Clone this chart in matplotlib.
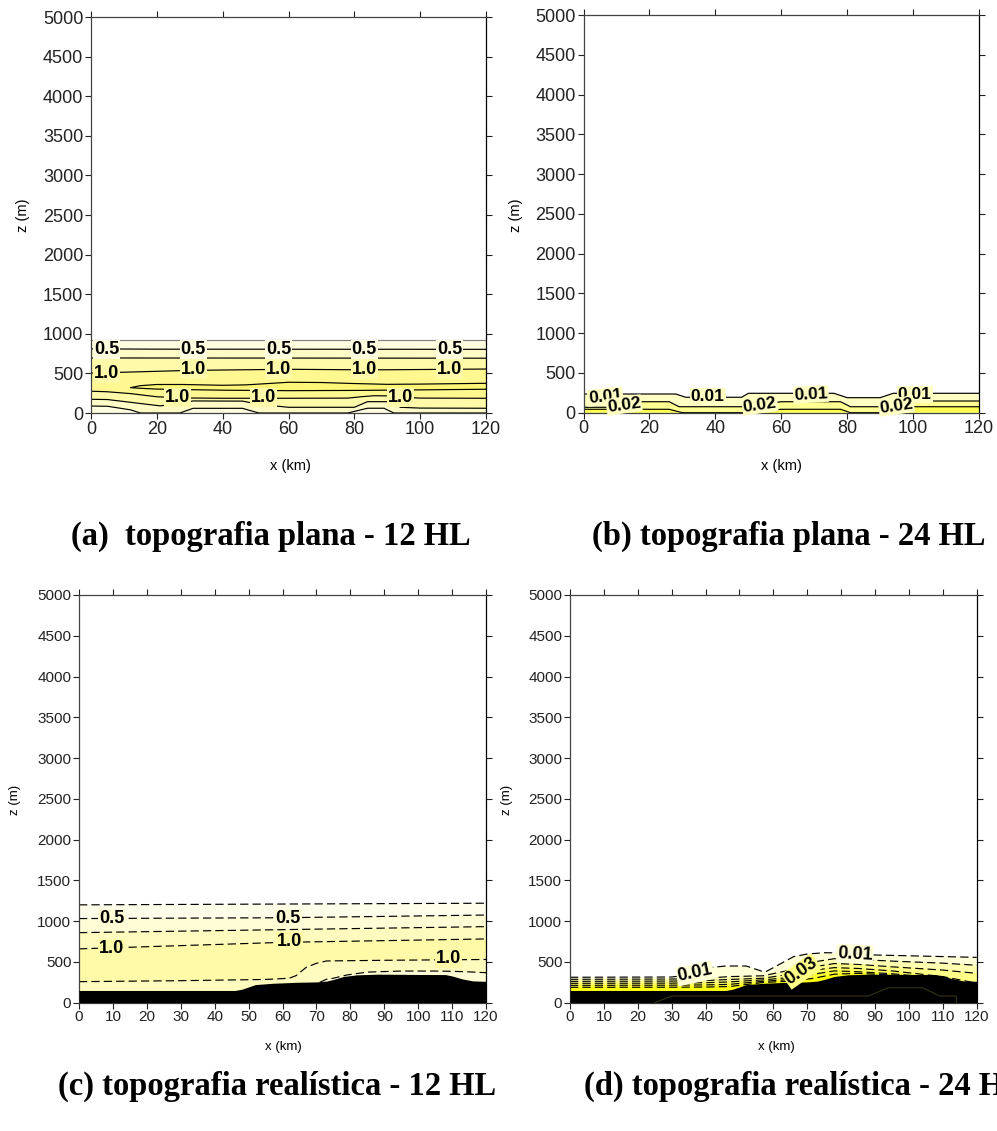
import numpy as np
import matplotlib.pyplot as plt

plt.rcParams['font.family'] = ['Liberation Sans', 'DejaVu Sans']

W, H = 997, 1131

# ---- (a) flat terrain, 12 HL : contour heights z (m) along x (km)
a_edge_x, a_edge_z = [0, 120], [920, 920]
a_05_x, a_05_z = [0, 20, 120], [810, 806, 804]
a_075_x, a_075_z = [0, 120], [695, 692]
a_10u_x = [0, 10, 30, 60, 80, 90, 120]
a_10u_z = [505, 515, 538, 552, 546, 546, 555]
a_lens_hi_x = [12, 15, 20, 28, 40, 47, 53, 60, 70, 80, 90, 100, 120]
a_lens_hi_z = [320, 345, 360, 360, 350, 355, 370, 388, 385, 372, 362, 365, 375]
a_lens_lo_x = [12, 15, 20, 28, 40, 60, 80, 100, 120]
a_lens_lo_z = [320, 312, 302, 296, 288, 282, 285, 292, 300]
a_10l_x = [0, 5, 12, 20, 28, 40, 60, 78, 82, 86, 92, 96, 100, 120]
a_10l_z = [275, 268, 245, 205, 190, 186, 186, 188, 205, 218, 215, 195, 188, 186]
a_075l_x = [0, 5, 12, 21, 26, 31, 46, 51, 60, 80, 84, 91, 94, 100, 120]
a_075l_z = [173, 170, 135, 90, 115, 152, 150, 110, 72, 72, 143, 143, 72, 62, 60]
a_05l_x = [0, 5, 12, 15, 27, 31, 46, 51, 78, 84, 89, 92, 120]
a_05l_z = [88, 85, 40, 0, 0, 59, 59, 0, 0, 60, 60, 0, 0]

# ---- (b) flat terrain, 24 HL
b_01_x = [0, 28, 31, 48, 50, 76, 80, 90, 94, 120]
b_01_z = [235, 235, 194, 194, 244, 244, 189, 189, 244, 244]
b_02_x = [0, 7, 14, 26, 29, 48, 55, 60, 78, 81, 90, 100, 120]
b_02_z = [68, 68, 138, 138, 75, 75, 110, 138, 138, 75, 75, 147, 147]
b_03_x = [0, 26, 30, 50, 60, 78, 81, 90, 100, 120]
b_03_z = [43, 43, 0, 0, 43, 43, 0, 0, 75, 75]

# ---- terrain profile used in (c) and (d)
topo_x = [0, 46, 48, 52, 57, 64, 70, 73, 75, 78, 82, 88, 95, 100, 108, 110, 113, 116, 120]
topo_z = [150, 150, 165, 222, 238, 250, 255, 265, 285, 322, 342, 350, 348, 346, 345, 328, 292, 268, 262]

# ---- (c) realistic terrain, 12 HL
c_edge_x, c_edge_z = [0, 120], [1200, 1220]
c_05_x, c_05_z = [0, 60, 120], [1032, 1042, 1075]
c_075_x, c_075_z = [0, 120], [859, 933]
c_10_x, c_10_z = [0, 60, 120], [660, 740, 782]
c_10l_x = [0, 30, 55, 62, 64, 67, 70, 73, 90, 120]
c_10l_z = [258, 270, 285, 300, 332, 434, 483, 512, 520, 530]
c_075l_x = [71, 73, 75, 79, 85, 95, 105, 110, 115, 120]
c_075l_z = [250, 288, 300, 340, 375, 388, 388, 385, 378, 368]

# ---- (d) realistic terrain, 24 HL
d_01_x = [0, 30, 35, 42, 46, 52, 57, 58, 66, 70, 75, 80, 90, 120]
d_01_z = [312, 315, 340, 434, 450, 450, 380, 385, 565, 597, 613, 610, 585, 556]
d_x = [0, 30, 40, 47, 57, 65, 72, 78, 85, 95, 110, 120]
d_2_z = [287, 290, 300, 320, 330, 400, 500, 540, 530, 510, 485, 459]
d_3_z = [262, 265, 272, 285, 300, 350, 440, 480, 470, 440, 400, 360]
d_4_z = [238, 240, 245, 255, 280, 310, 400, 430, 420, 390, 320, 240]
d_5_z = [213, 215, 218, 225, 262, 285, 350, 390, 380, 355, 300, 220]
d_6_z = [189, 190, 192, 198, 248, 265, 300, 350, 360, 340, 280, 200]
d_sub_x = [25, 30, 88, 94, 104, 109, 114, 114]
d_sub_z = [0, 82, 82, 184, 184, 82, 82, 0]

DASH = (0, (7, 3.5))


def fill_below(ax, x, z, color):
    ax.fill(list(x) + [x[-1], x[0]], list(z) + [0, 0], color=color, lw=0, zorder=1)


def cline(ax, x, z, ls='-', color='k'):
    ax.plot(x, z, color=color, lw=0.85, ls=ls, zorder=2)


def clabel(ax, x, z, s, fc, size=13, rot=0):
    ax.text(x, z, s, fontsize=size, fontweight='bold', ha='center', va='center',
            rotation=rot, zorder=5,
            bbox=dict(boxstyle='square,pad=0.05', fc=fc, ec='none'))


def setup(ax, xstep, size):
    ax.set_xlim(0, 120)
    ax.set_ylim(0, 5000)
    ax.set_xticks(np.arange(0, 121, xstep))
    ax.set_yticks(np.arange(0, 5001, 500))
    ax.tick_params(direction='out', top=True, right=True, labeltop=False,
                   labelright=False, length=4, width=0.8, pad=1.5,
                   labelsize=size, colors='#222222')
    for sp in ax.spines.values():
        sp.set_color('#444444')
        sp.set_linewidth(0.9)
    ax.spines['right'].set_color('black')


def axes_px(fig, left, right, top, bottom):
    return fig.add_axes([left / W, 1 - bottom / H, (right - left) / W, (bottom - top) / H])


def ftext(fig, px, py, s, **kw):
    fig.text(px / W, 1 - py / H, s, **kw)


fig = plt.figure(figsize=(W / 100, H / 100), dpi=100)

# ---------------- (a)
ax = axes_px(fig, 91, 486, 17, 413)
ca = ['#fffddf', '#fffbc6', '#fff9aa', '#fff790', '#fff576']
fill_below(ax, a_edge_x, a_edge_z, ca[0])
fill_below(ax, a_05_x, a_05_z, ca[1])
fill_below(ax, a_075_x, a_075_z, ca[2])
fill_below(ax, a_10u_x, a_10u_z, ca[3])
lens_x = a_lens_lo_x[::-1] + a_lens_hi_x
lens_z = a_lens_lo_z[::-1] + a_lens_hi_z
ax.fill(lens_x, lens_z, color=ca[4], lw=0, zorder=1)
fill_below(ax, a_10l_x, a_10l_z, ca[2])
fill_below(ax, a_075l_x, a_075l_z, ca[1])
fill_below(ax, a_05l_x, a_05l_z, ca[0])
cline(ax, a_edge_x, a_edge_z, color='#808080')
for lx, lz in [(a_05_x, a_05_z), (a_075_x, a_075_z), (a_10u_x, a_10u_z),
               (lens_x, lens_z), (a_10l_x, a_10l_z), (a_075l_x, a_075l_z),
               (a_05l_x, a_05l_z)]:
    cline(ax, lx, lz)
for x in [4.8, 31, 57, 83, 109]:
    clabel(ax, x, 805, '0.5', ca[0])
for x, z in [(4.8, 501), (31, 543), (57, 548), (83, 543), (109, 545)]:
    clabel(ax, x, z, '1.0', ca[2])
for x in [26.3, 52.4, 94]:
    clabel(ax, x, 196, '1.0', ca[2])
setup(ax, 20, 13)

# ---------------- (b)
ax = axes_px(fig, 583.5, 979, 15, 412.7)
cb = ['#ffffc4', '#ffff92', '#ffff52']
fill_below(ax, b_01_x, b_01_z, cb[0])
fill_below(ax, b_02_x, b_02_z, cb[1])
fill_below(ax, b_03_x, b_03_z, cb[2])
for lx, lz in [(b_01_x, b_01_z), (b_02_x, b_02_z), (b_03_x, b_03_z)]:
    cline(ax, lx, lz)
for x, z, s, r in [(6.6, 201, '0.01', 6), (12.3, 97, '0.02', 8),
                   (37.7, 201, '0.01', 0), (53.5, 97, '0.02', 8),
                   (69, 231, '0.01', 3), (100.5, 231, '0.01', 0),
                   (94.9, 84, '0.02', 8)]:
    clabel(ax, x, z, s, cb[0], size=12.5, rot=r)
setup(ax, 20, 13)

# ---------------- (c)
ax = axes_px(fig, 79, 486, 595, 1002.7)
cc = ['#fffeea', '#fffdd6', '#fffbbe', '#fffaa8']
fill_below(ax, c_edge_x, c_edge_z, cc[0])
fill_below(ax, c_05_x, c_05_z, cc[1])
fill_below(ax, c_075_x, c_075_z, cc[2])
fill_below(ax, c_10_x, c_10_z, cc[3])
fill_below(ax, c_10l_x, c_10l_z, cc[2])
fill_below(ax, c_075l_x, c_075l_z, cc[1])
for lx, lz in [(c_edge_x, c_edge_z), (c_05_x, c_05_z), (c_075_x, c_075_z),
               (c_10_x, c_10_z), (c_10l_x, c_10l_z), (c_075l_x, c_075l_z)]:
    cline(ax, lx, lz, ls=DASH)
ax.fill_between(topo_x, 0, topo_z, color='black', lw=0, zorder=3)
clabel(ax, 9.6, 1030, '0.5', cc[1])
clabel(ax, 61.7, 1030, '0.5', cc[1])
clabel(ax, 9.6, 665, '1.0', cc[3])
clabel(ax, 62, 748, '1.0', cc[3])
clabel(ax, 108.9, 536, '1.0', cc[3])
setup(ax, 10, 11)

# ---------------- (d)
ax = axes_px(fig, 570, 976.7, 595, 1002.7)
cd = ['#ffffd8', '#ffffb0', '#ffff88', '#ffff60', '#ffff38', '#ffff10']
fill_below(ax, d_01_x, d_01_z, cd[0])
for z, col in zip([d_2_z, d_3_z, d_4_z, d_5_z, d_6_z], cd[1:]):
    fill_below(ax, d_x, z, col)
cline(ax, d_01_x, d_01_z, ls=DASH)
for z in [d_2_z, d_3_z, d_4_z, d_5_z, d_6_z]:
    cline(ax, d_x, z, ls=DASH)
ax.fill_between(topo_x, 0, topo_z, color='black', lw=0, zorder=3)
ax.plot(d_sub_x, d_sub_z, color='#333310', lw=0.8, zorder=3.5)
clabel(ax, 36.9, 361, '0.01', cd[0], rot=12)
clabel(ax, 68.3, 385, '0.03', cd[2], rot=35)
clabel(ax, 84, 597, '0.01', cd[0], rot=-3)
setup(ax, 10, 11)

# axis titles
for px, py in [(23, 215), (516, 215)]:
    ftext(fig, px, py, 'z (m)', rotation=90, fontsize=10.5, ha='center', va='center')
for px, py in [(15, 800), (507, 800)]:
    ftext(fig, px, py, 'z (m)', rotation=90, fontsize=9.5, ha='center', va='center')
ftext(fig, 290, 466, 'x (km)', fontsize=10.5, ha='center', va='center')
ftext(fig, 781, 466, 'x (km)', fontsize=10.5, ha='center', va='center')
ftext(fig, 283, 1047, 'x (km)', fontsize=9.5, ha='center', va='center')
ftext(fig, 776, 1047, 'x (km)', fontsize=9.5, ha='center', va='center')

# panel captions
cap = dict(fontsize=23.5, fontweight='bold', family='Liberation Serif', va='center', ha='left')
ftext(fig, 71, 536, '(a)  topografia plana - 12 HL', **cap)
ftext(fig, 592, 536, '(b) topografia plana - 24 HL', **cap)
ftext(fig, 58, 1086, '(c) topografia realística - 12 HL', **cap)
ftext(fig, 584, 1086, '(d) topografia realística - 24 HL', **cap)

fig.savefig('out.png', dpi=100)
